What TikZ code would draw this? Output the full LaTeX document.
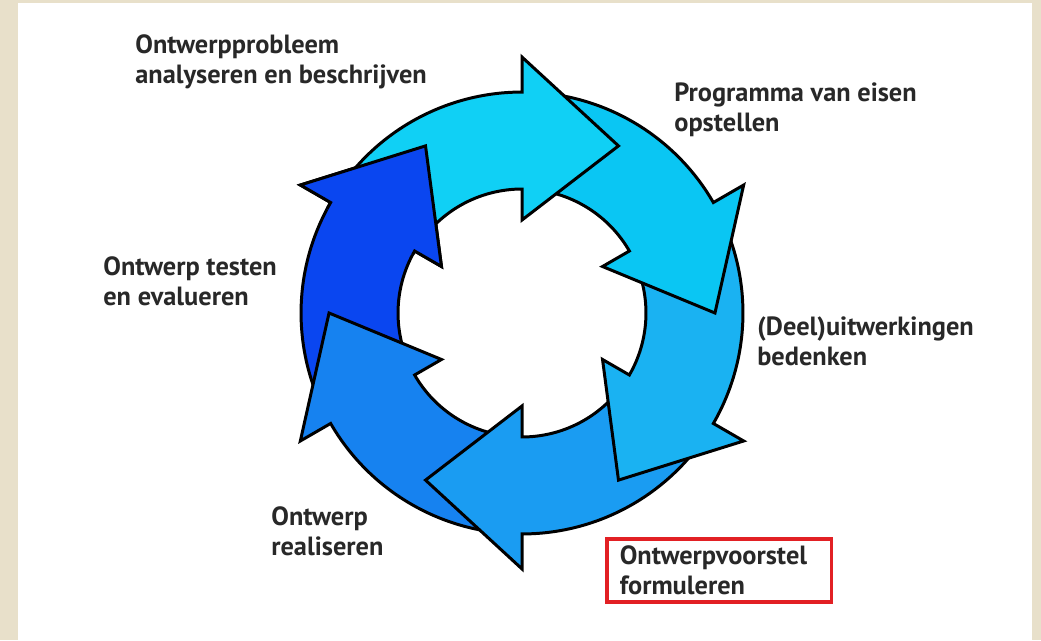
\documentclass[tikz,border=0pt]{standalone}
\usepackage{fontspec}
\setmainfont{PT Sans}
\usetikzlibrary{positioning}

\definecolor{papier}{RGB}{232,224,202}
\definecolor{tekst}{RGB}{40,40,40}
\definecolor{kader}{RGB}{226,32,36}
\definecolor{blauwA}{RGB}{16,208,245}
\definecolor{blauwB}{RGB}{10,198,243}
\definecolor{blauwC}{RGB}{26,178,242}
\definecolor{blauwD}{RGB}{26,156,242}
\definecolor{blauwE}{RGB}{22,130,240}
\definecolor{blauwF}{RGB}{10,70,240}

% one curved arrow of the ring, #1 = angle of the back of the head
\newcommand{\pijlvorm}[1]{(#1+55:4.42cm) arc[start angle=#1+55,end angle=#1,radius=4.42cm]
  -- (#1:5.12cm) -- (#1-30:3.86cm) -- (#1:1.86cm) -- (#1:2.48cm)
  arc[start angle=#1,end angle=#1+55,radius=2.48cm] -- cycle}

\begin{document}
\begin{tikzpicture}[x=0.02cm,y=0.02cm,
	pijl/.style={draw=black,line width=1.7pt,line join=miter},
	stap/.style={anchor=west,align=left,inner sep=0pt,text=tekst,
		font=\fontsize{15}{17}\selectfont\bfseries}]
	% achtergrond
		\useasboundingbox (0,0) rectangle (1041,640);
		\fill[papier] (0,0) rectangle (1041,640);
		\fill[white] (18,0) rectangle (1032,637);
	% pijlen
		\begin{scope}[shift={(522,327)}]
			\draw[pijl,fill=blauwF] \pijlvorm{150};
			\draw[pijl,fill=blauwE] \pijlvorm{-150};
			\draw[pijl,fill=blauwD] \pijlvorm{-90};
			\draw[pijl,fill=blauwC] \pijlvorm{-30};
			\draw[pijl,fill=blauwB] \pijlvorm{30};
			\draw[pijl,fill=blauwA] \pijlvorm{90};
			% kop van de laatste pijl weer bovenop
			\begin{scope}
				\clip (0,0) -- (152:6cm) -- (131:8cm) -- (110:6cm) -- cycle;
				\draw[pijl,fill=blauwF] \pijlvorm{150};
			\end{scope}
		\end{scope}
	% teksten
		\node (probleem) at (135,578) [stap] {Ontwerpprobleem\\analyseren en beschrijven};
		\node (eisen) at (674,530) [stap] {Programma van eisen\\opstellen};
		\node (deel) at (757,299) [stap] {(Deel)uitwerkingen\\bedenken};
		\node (voorstel) at (605,103) [anchor=north west,draw=kader,line width=2pt,
			minimum width=4.5cm,minimum height=1.26cm,inner xsep=0.26cm,inner ysep=0pt,
			text width=3.98cm,align=left,text=tekst,
			font=\fontsize{15}{17}\selectfont\bfseries] {Ontwerpvoorstel\\formuleren};
		\node (realiseren) at (271,109) [stap] {Ontwerp\\realiseren};
		\node (testen) at (103,359) [stap] {Ontwerp testen\\en evalueren};
\end{tikzpicture}
\end{document}
